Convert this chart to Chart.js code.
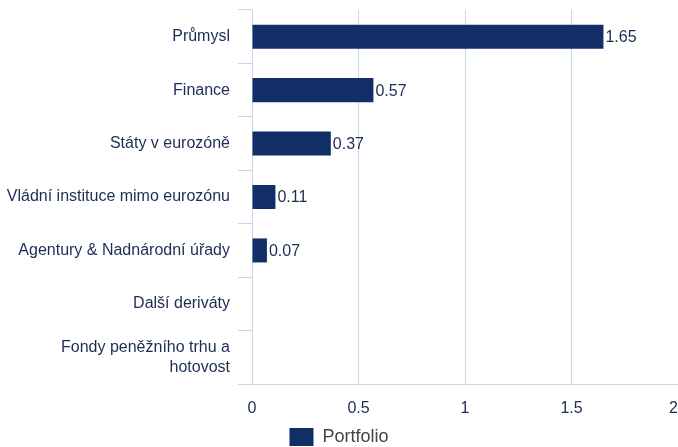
<!DOCTYPE html>
<html>
<head>
<meta charset="utf-8">
<script src="https://cdn.jsdelivr.net/npm/chart.js@4/dist/chart.umd.min.js"></script>
<style>
  html, body { margin: 0; padding: 0; background: #fff; overflow: hidden; }
  #wrap { width: 678px; height: 447px; position: relative; }
</style>
</head>
<body>
<div id="wrap"><canvas id="chart"></canvas></div>
<script>
// data
var categories = [
    "Průmysl",
    "Finance",
    "Státy v eurozóně",
    "Vládní instituce mimo eurozónu",
    "Agentury & Nadnárodní úřady",
    "Další deriváty",
    ["Fondy peněžního trhu a", "hotovost"]
];
var portfolio = [1.65, 0.57, 0.37, 0.11, 0.07, null, null];
var xTicks = [0, 0.5, 1, 1.5, 2];

var navy = "#122e66",
    textNavy = "#1d2c55",
    gridCol = "#c9d6e6",
    fontFam = '"Liberation Sans", Arial, Helvetica, sans-serif';

Chart.defaults.font.family = fontFam;

// value labels at the end of each bar
var barValues = {
    id: "barValues",
    afterDatasetsDraw: function(chart) {
        var ctx = chart.ctx,
            meta = chart.getDatasetMeta(0);
        ctx.save();
        ctx.font = "16px " + fontFam;
        ctx.fillStyle = textNavy;
        ctx.textAlign = "left";
        ctx.textBaseline = "middle";
        meta.data.forEach(function(bar, i) {
            var v = portfolio[i];
            if (v == null) return;
            ctx.fillText(String(v), bar.x + 2, bar.y + 1);
        });
        ctx.restore();
    }
};

new Chart(document.getElementById("chart"), {
    type: "bar",
    data: {
        labels: categories,
        datasets: [{
            label: "Portfolio",
            data: portfolio,
            backgroundColor: navy,
            borderWidth: 0,
            barPercentage: 0.9,
            categoryPercentage: 0.5
        }]
    },
    options: {
        indexAxis: "y",
        responsive: true,
        maintainAspectRatio: false,
        animation: false,
        layout: { padding: { top: 10, right: 0, bottom: -9, left: 0 } },
        plugins: {
            legend: {
                position: "bottom",
                labels: {
                    boxWidth: 24,
                    boxHeight: 18,
                    padding: 1,
                    color: "#444",
                    font: { size: 18, family: fontFam }
                }
            },
            tooltip: { enabled: false }
        },
        scales: {
            x: {
                min: 0,
                max: 2,
                afterBuildTicks: function(s) {
                    s.ticks = xTicks.map(function(v) { return { value: v }; });
                },
                afterFit: function(s) {
                    s.paddingRight = 0;
                    s.height = 43;
                },
                grid: { color: gridCol, drawTicks: false, lineWidth: 1 },
                border: { color: gridCol },
                ticks: {
                    color: textNavy,
                    padding: 15,
                    font: { size: 16 },
                    callback: function(v) { return v === 2 ? "2  " : String(v); }
                }
            },
            y: {
                afterFit: function(s) {
                    s.width = 252;
                    s.paddingTop = 0;
                    s.paddingBottom = 0;
                },
                grid: {
                    color: gridCol,
                    drawOnChartArea: false,
                    drawTicks: true,
                    tickLength: 14,
                    offset: true
                },
                border: { color: gridCol },
                ticks: {
                    color: textNavy,
                    padding: 8,
                    font: { size: 16, lineHeight: 1.25 }
                }
            }
        }
    },
    plugins: [barValues]
});
</script>
</body>
</html>
